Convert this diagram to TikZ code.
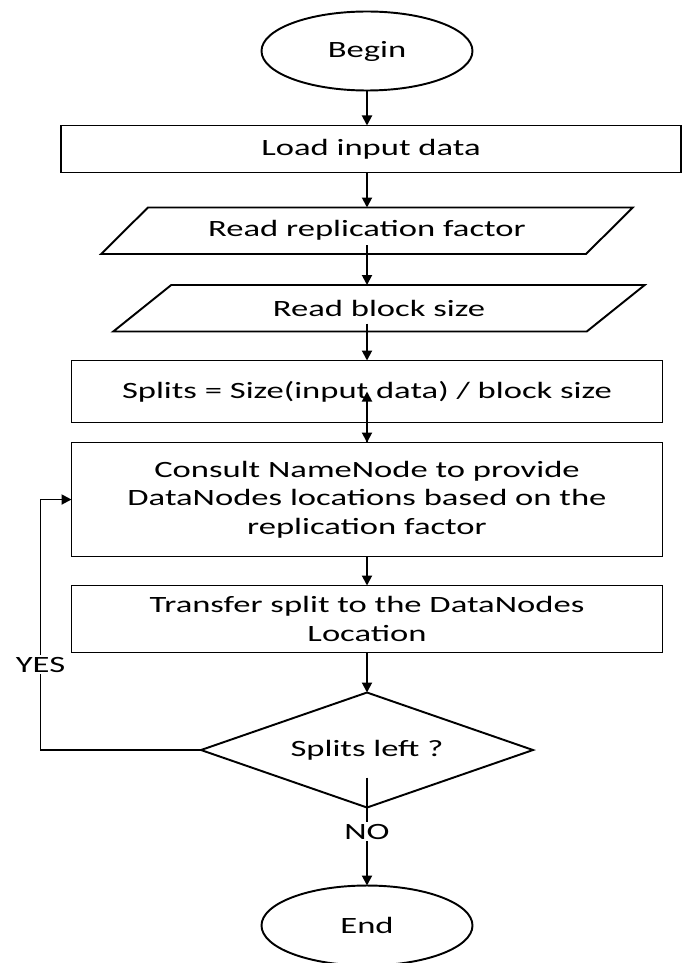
\documentclass[tikz,border=0pt]{standalone}
\usepackage{fontspec}
\setmainfont{Carlito}[FakeStretch=1.48]
\usetikzlibrary{arrows.meta, positioning, shapes.geometric}

\begin{document}
\begin{tikzpicture}[
  terminal/.style={draw, ellipse, minimum width=4.22cm, minimum height=1.58cm, inner sep=0pt},
  process/.style={draw, rectangle, minimum width=11.82cm, align=center, inner sep=2pt},
  inout/.style={draw, trapezium, trapezium left angle=42, trapezium right angle=138,
    trapezium stretches=true, minimum width=10.64cm, minimum height=0.93cm},
  decision/.style={draw, diamond, aspect=2.9, minimum width=6.64cm, minimum height=2.3cm, inner sep=0pt},
  flow/.style={-{Triangle[length=0.2cm, width=0.2cm]}},
  every node/.style={font=\fontsize{13.3}{16.2}\selectfont, outer sep=0pt},
  line width=1.1pt
]
  \useasboundingbox (0,0) rectangle (13.68,-19.26);

  \node[terminal] (begin) at (7.34,-1.02) {Begin};
  \node[process, minimum width=12.4cm, minimum height=0.94cm, below=0.7cm of begin, xshift=0.08cm] (load) {Load input data};
  \node[inout, below=0.7cm of load, xshift=-0.08cm] (repl) {Read replication factor};
  \node[inout, below=0.62cm of repl, xshift=0.24cm] (blocksize) {Read block size};
  \node[process, minimum height=1.24cm, below=0.58cm of blocksize, xshift=-0.24cm] (splits) {Splits = Size(input data) / block size};
  \node[process, minimum height=2.28cm, below=0.4cm of splits] (consult) {Consult NameNode to provide\\DataNodes locations based on the\\replication factor};
  \node[process, minimum height=1.34cm, below=0.58cm of consult] (transfer) {Transfer split to the DataNodes\\Location};
  \node[decision, below=0.8cm of transfer] (left) {Splits left ?};
  \node[terminal, minimum height=1.6cm, below=1.56cm of left] (end) {End};

  \draw[flow] (begin) -- (begin |- load.north);
  \draw[flow] (begin |- load.south) -- (begin |- repl.north);
  \draw[flow] ([yshift=0.18cm]begin |- repl.south) -- (begin |- blocksize.north);
  \draw[flow] ([yshift=0.16cm]begin |- blocksize.south) -- (begin |- splits.north);
  \draw[flow] (begin |- splits.south) -- (begin |- consult.north);
  \draw[flow] (begin |- consult.north) -- ([yshift=1.02cm]begin |- consult.north);
  \draw[flow] (begin |- consult.south) -- (begin |- transfer.north);
  \draw[flow] (begin |- transfer.south) -- (left.north);
  \draw[flow] (left.west) -| node[pos=0.67, fill=white, inner sep=1pt] (yes) {YES} ([xshift=-0.62cm]consult.west) -- (consult.west);
  \draw[flow] ([yshift=0.6cm]left.south) -- node[fill=white, inner sep=1pt] (no) {NO} (end);
\end{tikzpicture}
\end{document}
